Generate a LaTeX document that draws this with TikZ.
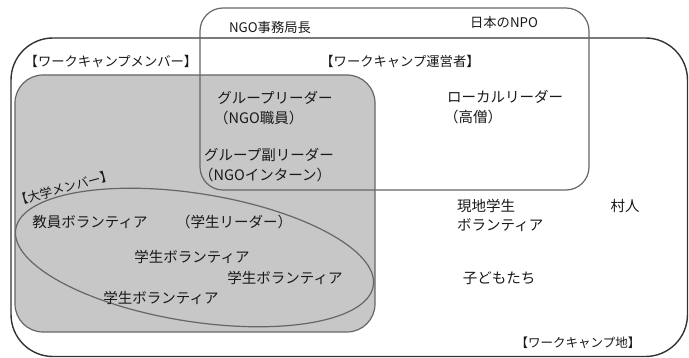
\documentclass[tikz,border=0pt]{standalone}
\usepackage{fontspec}
\newfontfamily\jp{Noto Sans CJK JP}
\begin{document}
\begin{tikzpicture}[x=1pt,y=-1pt,
  txt/.style={inner sep=0pt, font=\jp\fontsize{14.5}{19}\selectfont, text=black!90},
  lbl/.style={inner sep=0pt, font=\jp\fontsize{13.3}{16}\selectfont, text=black!90},
  boxline/.style={draw=black!60, line width=1.2pt}]
\useasboundingbox (0,0) rectangle (689,358);
% outer: work camp site
\draw[draw=black!80, line width=1.4pt, rounded corners=42pt] (11,38) rectangle (687.5,356.5);
% university members (gray)
\draw[boxline, fill=black!22, rounded corners=28pt] (15,75) rectangle (375,332);
% ellipse of students
\draw[boxline, rotate around={-9:(194.5,257.5)}] (194.5,257.5) ellipse [x radius=181, y radius=64];
% NGO box
\draw[boxline, rounded corners=23pt] (200,8) rectangle (589,190);
% labels
\node[lbl] (ngochief) at (270,27) {NGO事務局長};
\node[lbl] (jnpo) at (504,22) {日本のNPO};
\node[lbl] (wcmem) at (111,61) {【ワークキャンプメンバー】};
\node[lbl] (wcop) at (400,61) {【ワークキャンプ運営者】};
\node[txt] (gl1) at (275,98) {グループリーダー};
\node[txt, anchor=west] (gl2) at (214,118) {（NGO職員）};
\node[txt] (gsl1) at (269,155) {グループ副リーダー};
\node[txt, anchor=west] (gsl2) at (199,175) {（NGOインターン）};
\node[txt] (ll1) at (505,97) {ローカルリーダー};
\node[txt, anchor=west] (ll2) at (444,117) {（高僧）};
\node[lbl, font=\jp\fontsize{12.5}{15}\selectfont, rotate=15] (univ) at (64,188) {【大学メンバー】};
\node[txt] (fac) at (90,222) {教員ボランティア};
\node[txt] (sl) at (234,222) {（学生リーダー）};
\node[txt] (sv1) at (192,257) {学生ボランティア};
\node[txt] (sv2) at (285,278) {学生ボランティア};
\node[txt] (sv3) at (161,298) {学生ボランティア};
\node[txt, anchor=west] (loc1) at (457,206) {現地学生};
\node[txt, anchor=west] (loc2) at (457,225) {ボランティア};
\node[txt] (vil) at (625,206) {村人};
\node[txt] (kids) at (499,278) {子どもたち};
\node[lbl, font=\jp\fontsize{12.5}{15}\selectfont] (site) at (578,343) {【ワークキャンプ地】};
\end{tikzpicture}
\end{document}
